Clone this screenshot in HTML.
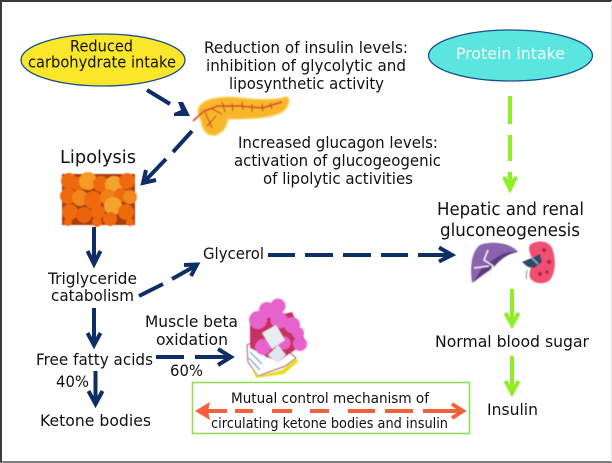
<!DOCTYPE html>
<html><head><meta charset="utf-8"><style>
html,body{margin:0;padding:0;background:#fff}
svg{display:block}
text{font-family:"DejaVu Sans",sans-serif;font-size:15.8px;fill:#111}
.l{font-size:17.5px}
.s{font-size:14.4px}
</style></head><body>
<svg width="612" height="463" viewBox="0 0 612 463" xmlns="http://www.w3.org/2000/svg">
<defs><filter id="b" x="-5%" y="-5%" width="110%" height="110%"><feGaussianBlur stdDeviation="0.5"/></filter></defs>
<rect width="612" height="463" fill="#fff"/>
<path d="M1 462V1H612" fill="none" stroke="#3a3a3a" stroke-width="2"/>
<path d="M0 462H612" stroke="#555" stroke-width="1.5"/>
<path d="M611.5 1V462" stroke="#e4e4e4" stroke-width="1"/>

<ellipse cx="103" cy="60" rx="82" ry="26" fill="#fbe72a" stroke="#1b4c8c" stroke-width="1.3"/>
<ellipse cx="510.5" cy="55.5" rx="82" ry="25.5" fill="#5ae6de" stroke="#1b4c8c" stroke-width="1.3"/>

<rect x="192.5" y="382.5" width="277" height="51" fill="#fff" stroke="#8fdc55" stroke-width="1.6"/>

<!-- pancreas -->
<g filter="url(#b)">
<path d="M199 107C205 98 222 96 240 98C258 100 276 100 287 97C291 100 288 108 282 112C272 118 250 119 228 119C226 126 225 132 215 135C205 136 202 128 201 120C199 116 197 111 199 107Z" fill="#f9b62c" stroke="#fbd25a" stroke-width="1.5"/>
<path d="M193 121L204 111L218 106L240 106L262 108L282 102" fill="none" stroke="#d9502a" stroke-width="1.8"/>
<path d="M205 112L212 128M210 108L222 114M216 116L207 126M222 102L225 112M232 103L233 111M242 102L243 110M252 104L252 112M262 104L263 111M270 103L272 109" fill="none" stroke="#cf4b26" stroke-width="1.2"/>
</g>

<!-- adipose -->
<g filter="url(#b)">
<rect x="62" y="174" width="73" height="51" fill="#a83c08"/>
<g fill="#ee6a10">
<circle cx="69" cy="181" r="8"/><circle cx="78" cy="184" r="7"/><circle cx="88" cy="181" r="9" fill="#f59a24"/><circle cx="101" cy="184" r="8"/><circle cx="114" cy="185" r="9" fill="#f6a32e"/><circle cx="127" cy="181" r="8"/>
<circle cx="68" cy="196" r="8"/><circle cx="80" cy="198" r="8" fill="#f3861a"/><circle cx="93" cy="200" r="9"/><circle cx="108" cy="197" r="8" fill="#f08018"/><circle cx="121" cy="195" r="7"/><circle cx="130" cy="197" r="7" fill="#f3861a"/>
<circle cx="70" cy="212" r="8"/><circle cx="84" cy="215" r="8" fill="#ea6410"/><circle cx="98" cy="212" r="7"/><circle cx="113" cy="206" r="9" fill="#f6a32e"/><circle cx="126" cy="212" r="8"/><circle cx="110" cy="219" r="7"/><circle cx="97" cy="222" r="5"/><circle cx="68" cy="222" r="4"/><circle cx="130" cy="222" r="4"/>
</g></g>

<!-- muscle -->
<g filter="url(#b)">
<path d="M247 345L248 362L258 376L285 366L296 358L270 335Z" fill="#fff" stroke="#b03a6a" stroke-width="1"/>
<path d="M250 352L262 364M249 358L260 370M252 345L268 358" stroke="#4f8fd0" stroke-width="1.2" fill="none"/>
<path d="M252 368L258 376L282 370L296 358L298 362L284 374L256 378Z" fill="#e6dc25"/>
<path d="M250 322L292 312L306 342L278 362L250 348Z" fill="#c53060"/>
<g fill="#e764cc">
<circle cx="267" cy="310" r="8"/><circle cx="278" cy="306" r="7.5"/><circle cx="258" cy="320" r="9"/><circle cx="279" cy="320" r="8.5"/><circle cx="292" cy="325" r="8"/><circle cx="300" cy="344" r="7"/><circle cx="263" cy="347" r="8"/><circle cx="284" cy="343" r="6.5"/><circle cx="298" cy="333" r="6"/>
</g>
<path d="M262 333L276 325L285 340L272 349Z" fill="#e6eef2"/>
<path d="M268 355L278 345L286 355L277 363Z" fill="#dfe8ec"/>
</g>

<!-- liver + kidney -->
<g filter="url(#b)">
<path d="M472 283C470 268 471 252 480 245C490 241 510 242 518 252C507 252 499 258 494 266C486 272 478 277 472 283Z" fill="#8a62ad"/>
<path d="M482 268C492 262 500 250 518 252C507 254 500 260 494 267C486 273 478 278 473 283Z" fill="#5b3a80"/>
<path d="M488 250L484 260L493 266L490 274M474 268L489 266" stroke="#eee" stroke-width="1.5" fill="none"/>
<path d="M530 245C536 240 548 240 552 248C556 258 556 272 550 280C544 285 534 284 530 278C528 270 534 264 532 258C530 254 528 249 530 245Z" fill="#ef4f70"/>
<circle cx="544" cy="250" r="2" fill="#b91c40"/><circle cx="549" cy="262" r="2.2" fill="#c01c44"/><circle cx="540" cy="274" r="2.2" fill="#c01c44"/><circle cx="547" cy="272" r="1.8" fill="#b91c40"/>
<path d="M522 262L534 257L540 254L542 262L534 268L528 267Z" fill="#2f4a6a"/>
<path d="M527 270L526 279" stroke="#9fb2b2" stroke-width="1.5"/>
<path d="M532 258L538 264" stroke="#8fb6d6" stroke-width="1.5"/>
</g>

<!-- navy arrows -->
<g fill="none" stroke="#0f2d66" stroke-width="4">
<path d="M147 90L170 104"/>
<path d="M192 131L173 152M166 159L143 183"/>
<path d="M146 170L143 183L156 180"/>
<path d="M94 227V263M87.5 251L94 264L100.5 251"/>
<path d="M94 308V344M87.5 333L94 345L100.5 333"/>
<path d="M95.5 371V404M88.5 391L95.5 404L102.5 391"/>
<path d="M139 296L163 284M172 279L197 265"/>
<path d="M184 265L197 264.500L191 276"/>
<path d="M156 357H184M195 357H231M218 349L231 357L218 365"/>
<path d="M268 255H295M305 255H333M343 255H371M381 255H408M418 255H451M439 247.500L452 255L439 261.500"/>
</g>
<path d="M190 116L174 116L174 113L181 110L178 102L183 102Z" fill="#0f2d66"/>

<!-- green arrows -->
<g fill="none" stroke="#8fee24" stroke-width="4">
<path d="M510 96V124M510 135V161M510 172V190M504 177L510 189L516 177"/>
<path d="M512 289V323M505.500 313L512 325L518.500 313"/>
<path d="M512 356V392M505.500 381L512 393L518.500 381"/>
</g>
<path d="M503 176L510 180L518 176L510 191Z" fill="#8fee24"/>

<!-- orange arrow -->
<g fill="none" stroke="#f4603a" stroke-width="4">
<path d="M198 411H227M235 411H253M272 411H292M310 411H329M348 411H375M385 411H413M423 411H462"/>
<path d="M452 404L463 411L452 418"/>
</g>
<path d="M195 411L210 402L208 411L210 420Z" fill="#f4603a"/>

<!-- text -->
<text x="70" y="51.500" textLength="63" lengthAdjust="spacingAndGlyphs">Reduced</text>
<text x="28" y="67.500" textLength="148" lengthAdjust="spacingAndGlyphs">carbohydrate intake</text>
<text x="456" y="59" textLength="109" lengthAdjust="spacingAndGlyphs" style="fill:#f2fbf5">Protein intake</text>
<text x="204" y="53" textLength="204" lengthAdjust="spacingAndGlyphs">Reduction of insulin levels:</text>
<text x="206" y="71" textLength="200" lengthAdjust="spacingAndGlyphs">inhibition of glycolytic and</text>
<text x="229" y="89" textLength="155" lengthAdjust="spacingAndGlyphs">liposynthetic activity</text>
<text x="238" y="148" textLength="200" lengthAdjust="spacingAndGlyphs">Increased glucagon levels:</text>
<text x="234" y="166" textLength="207" lengthAdjust="spacingAndGlyphs">activation of glucogeogenic</text>
<text x="263" y="184" textLength="150" lengthAdjust="spacingAndGlyphs">of lipolytic activities</text>
<text class="l" x="60" y="163" textLength="76" lengthAdjust="spacingAndGlyphs">Lipolysis</text>
<text class="l" x="437" y="215" textLength="147" lengthAdjust="spacingAndGlyphs">Hepatic and renal</text>
<text class="l" x="440" y="236" textLength="140" lengthAdjust="spacingAndGlyphs">gluconeogenesis</text>
<text x="203" y="259" textLength="61" lengthAdjust="spacingAndGlyphs">Glycerol</text>
<text x="48" y="284" textLength="89" lengthAdjust="spacingAndGlyphs">Triglyceride</text>
<text x="51" y="301" textLength="83" lengthAdjust="spacingAndGlyphs">catabolism</text>
<text x="145" y="327" textLength="93" lengthAdjust="spacingAndGlyphs">Muscle beta</text>
<text x="156" y="345" textLength="72" lengthAdjust="spacingAndGlyphs">oxidation</text>
<text x="36" y="365" textLength="117" lengthAdjust="spacingAndGlyphs">Free fatty acids</text>
<text x="56" y="387" textLength="33" lengthAdjust="spacingAndGlyphs">40%</text>
<text x="170" y="376" textLength="33" lengthAdjust="spacingAndGlyphs">60%</text>
<text x="40" y="426" textLength="111" lengthAdjust="spacingAndGlyphs">Ketone bodies</text>
<text class="s" x="231" y="403" textLength="198" lengthAdjust="spacingAndGlyphs">Mutual control mechanism of</text>
<text class="s" x="211" y="428" textLength="237" lengthAdjust="spacingAndGlyphs">circulating ketone bodies and insulin</text>
<text x="435" y="347" textLength="154" lengthAdjust="spacingAndGlyphs">Normal blood sugar</text>
<text x="487" y="415" textLength="51" lengthAdjust="spacingAndGlyphs">Insulin</text>
</svg>
</body></html>
